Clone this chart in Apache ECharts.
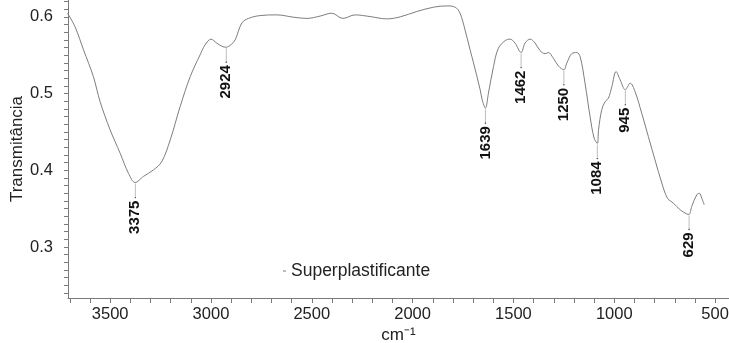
<!DOCTYPE html>
<html>
<head>
<meta charset="utf-8">
<script src="https://cdn.jsdelivr.net/npm/echarts@6/dist/echarts.min.js"></script>
<style>
  html, body { margin: 0; padding: 0; background: #fff; }
  #chart { width: 729px; height: 343px; }
</style>
</head>
<body>
<div id="chart"></div>
<script>
// FTIR spectrum
const wavenumber = [
  3712, 3674, 3632, 3583, 3550, 3500, 3450, 3409, 3376, 3335, 3285, 3244, 3202, 3153,
  3103, 3054, 3029, 3000, 2971, 2940, 2924, 2900, 2880, 2847, 2814,
  2756, 2673, 2591, 2525, 2459, 2401, 2346, 2285, 2211, 2128, 2062, 1979, 1897, 1830,
  1789, 1765, 1740, 1715, 1698, 1665, 1655, 1639, 1624, 1599, 1575, 1541, 1517, 1492,
  1462, 1442, 1417, 1393, 1368, 1343, 1327, 1302, 1277, 1250, 1235, 1211, 1186, 1169,
  1145, 1120, 1100, 1084, 1078, 1062, 1045, 1029, 1012, 991, 971, 945, 921, 897,
  864, 831, 798, 764, 736, 706, 673, 640, 629, 616, 591, 578, 566, 554
]
const transmittance = [
  0.605, 0.587, 0.557, 0.522, 0.4896, 0.4527, 0.422, 0.396, 0.384, 0.392, 0.4005, 0.4113, 0.4396, 0.483,
  0.522, 0.5505, 0.5635, 0.571, 0.5657, 0.561, 0.5605, 0.564, 0.57, 0.592, 0.598,
  0.6017, 0.6026, 0.5996, 0.598, 0.601, 0.6048, 0.598, 0.6026, 0.6004, 0.5974, 0.6, 0.607, 0.6126, 0.6143,
  0.6126, 0.6048, 0.583, 0.557, 0.54, 0.505, 0.492, 0.481, 0.5005, 0.535, 0.559, 0.569, 0.571, 0.5657,
  0.5535, 0.566, 0.571, 0.566, 0.556, 0.552, 0.5535, 0.546, 0.536, 0.531, 0.54, 0.552, 0.5535, 0.548,
  0.5135, 0.47, 0.442, 0.435, 0.4527, 0.479, 0.4896, 0.494, 0.509, 0.5287, 0.518, 0.505, 0.5136, 0.5026,
  0.4745, 0.444, 0.4136, 0.3832, 0.3636, 0.357, 0.3484, 0.343, 0.3425, 0.3527, 0.368, 0.37, 0.3636, 0.355
]

const peakWavenumber = [3375, 2924, 1639, 1462, 1250, 1084, 945, 629]
const peakTransmittance = [0.384, 0.5605, 0.481, 0.5535, 0.531, 0.435, 0.505, 0.3425]

const xTicks = [500, 600, 700, 800, 900, 1000, 1100, 1200, 1300, 1400, 1500, 1600, 1700, 1800, 1900,
  2000, 2100, 2200, 2300, 2400, 2500, 2600, 2700, 2800, 2900, 3000, 3100, 3200, 3300, 3400, 3500, 3600, 3700]
const xLabels = [500, 1000, 1500, 2000, 2500, 3000, 3500]
const yTicks = [0.24, 0.25, 0.26, 0.27, 0.28, 0.29, 0.3, 0.31, 0.32, 0.33, 0.34, 0.35, 0.36, 0.37, 0.38, 0.39,
  0.4, 0.41, 0.42, 0.43, 0.44, 0.45, 0.46, 0.47, 0.48, 0.49, 0.5, 0.51, 0.52, 0.53, 0.54, 0.55, 0.56, 0.57,
  0.58, 0.59, 0.6, 0.61, 0.62]
const yLabels = [0.3, 0.4, 0.5, 0.6]

const font = '"Liberation Sans", Arial, sans-serif'
const axisColor = "#7a7a7a"
const textColor = "#222"

const chart = echarts.init(document.getElementById("chart"), null, { renderer: "canvas" })

chart.setOption({
  animation: false,
  grid: { left: 68, right: 0, top: 0, bottom: 45, outerBoundsMode: "none", containLabel: false },
  legend: {
    data: ["Superplastificante"],
    left: 278,
    top: 257,
    icon: "rect",
    itemWidth: 3,
    itemHeight: 1,
    textStyle: { fontFamily: font, fontSize: 17.5, color: textColor }
  },
  xAxis: {
    type: "value",
    inverse: true,
    min: 431,
    max: 3709,
    name: "cm⁻¹",
    nameLocation: "middle",
    nameGap: 29,
    nameMoveOverlap: false,
    nameTextStyle: { fontFamily: font, fontSize: 17, color: textColor },
    splitLine: { show: false },
    axisLine: { lineStyle: { color: axisColor, width: 1 } },
    axisTick: { customValues: xTicks, length: 5, lineStyle: { color: axisColor } },
    axisLabel: {
      customValues: xLabels,
      margin: 8,
      fontFamily: font,
      fontSize: 16.5,
      color: textColor,
      formatter: (v) => String(v)
    }
  },
  yAxis: {
    type: "value",
    min: 0.2335,
    max: 0.622,
    name: "Transmitância",
    nameLocation: "middle",
    nameGap: 42,
    nameMoveOverlap: false,
    nameTextStyle: { fontFamily: font, fontSize: 17, color: textColor },
    splitLine: { show: false },
    axisLine: { show: true, lineStyle: { color: axisColor, width: 1 } },
    axisTick: { customValues: yTicks, length: 4, lineStyle: { color: axisColor } },
    axisLabel: {
      customValues: yLabels,
      margin: 15,
      fontFamily: font,
      fontSize: 16.5,
      color: textColor,
      formatter: (v) => v.toFixed(1)
    }
  },
  series: [
    {
      name: "Superplastificante",
      type: "line",
      data: wavenumber.map((w, i) => [w, transmittance[i]]),
      smooth: 0.35,
      showSymbol: false,
      lineStyle: { color: "#7d7d7d", width: 1 },
      itemStyle: { color: "#7d7d7d" }
    },
    {
      name: "peaks",
      type: "custom",
      data: peakWavenumber.map((w, i) => [w, peakTransmittance[i]]),
      renderItem: (params, api) => {
        const pt = api.coord([api.value(0), api.value(1)])
        return {
          type: "group",
          children: [
            {
              type: "line",
              shape: { x1: pt[0], y1: pt[1] + 1, x2: pt[0], y2: pt[1] + 14 },
              style: { stroke: "#a0a0a0", lineWidth: 0.7 }
            },
            {
              type: "circle",
              shape: { cx: pt[0], cy: pt[1] + 15, r: 0.8 },
              style: { fill: "#555" }
            },
            {
              type: "text",
              x: pt[0],
              y: pt[1] + 18,
              rotation: Math.PI / 2,
              style: {
                text: String(peakWavenumber[params.dataIndex]),
                fill: "#111",
                font: "bold 15px " + font,
                align: "right",
                verticalAlign: "middle"
              }
            }
          ]
        }
      }
    }
  ]
})

window.addEventListener("resize", () => chart.resize())
</script>
</body>
</html>
